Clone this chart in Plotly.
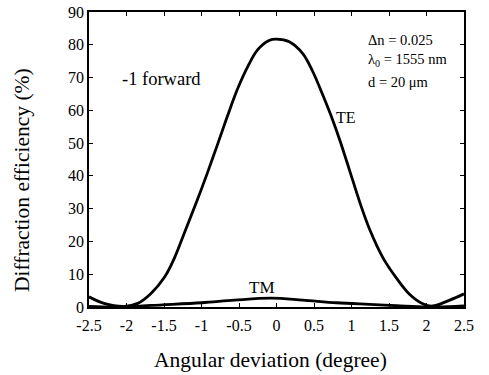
import plotly.graph_objects as go

# TE curve
te_x = [-2.5, -2.3, -2.03, -1.85, -1.67, -1.49, -1.36, -1.23, -1.05, -0.92, -0.78, -0.65, -0.52,
        -0.38, -0.25, -0.1, 0.0, 0.17, 0.35, 0.48, 0.62, 0.75, 0.85, 0.97, 1.11, 1.24, 1.42,
        1.6, 1.77, 1.95, 2.08, 2.31, 2.5]
te_y = [3.1, 1.1, 0.2, 1.1, 4.2, 9.2, 15.0, 22.5, 33.0, 41.0, 50.0, 58.5, 66.5,
        73.5, 78.5, 81.3, 81.7, 80.9, 77.3, 72.0, 64.5, 57.0, 50.5, 42.0, 32.0, 23.8, 15.0,
        8.8, 4.0, 1.0, 0.3, 2.1, 4.0]

# TM curve
tm_x = [-2.5, -2.2, -2.0, -1.67, -1.0, -0.56, -0.07, 0.35, 0.8, 1.24, 1.6, 2.0, 2.3, 2.5]
tm_y = [0.2, 0.0, 0.0, 0.5, 1.3, 2.1, 2.7, 2.1, 1.3, 0.8, 0.4, 0.0, 0.1, 0.3]

x_ticks = [-2.5, -2, -1.5, -1, -0.5, 0, 0.5, 1, 1.5, 2, 2.5]
x_tick_labels = ["-2.5", "-2", "-1.5", "-1", "-0.5", "0", "0.5", "1", "1.5", "2", "2.5"]
y_ticks = [0, 10, 20, 30, 40, 50, 60, 70, 80, 90]

FONT = "Liberation Serif"

fig = go.Figure()
fig.add_trace(go.Scatter(x=te_x, y=te_y, mode="lines",
                         line=dict(color="black", width=2.8, shape="spline", smoothing=1.0),
                         showlegend=False))
fig.add_trace(go.Scatter(x=tm_x, y=tm_y, mode="lines",
                         line=dict(color="black", width=2.8, shape="spline", smoothing=1.0),
                         showlegend=False))

ann_font = dict(family=FONT, size=14.5, color="black")
fig.add_annotation(x=-1.53, y=69.5, text="-1 forward", showarrow=False,
                   font=dict(family=FONT, size=18.5, color="black"), xanchor="center", yanchor="middle")
fig.add_annotation(x=1.19, y=81.5, text="Δn = 0.025", showarrow=False, font=ann_font,
                   xanchor="left", yanchor="middle")
fig.add_annotation(x=1.19, y=75.5, text="λ<sub>0</sub> = 1555 nm", showarrow=False, font=ann_font,
                   xanchor="left", yanchor="middle")
fig.add_annotation(x=1.19, y=68.6, text="d = 20 μm", showarrow=False, font=ann_font,
                   xanchor="left", yanchor="middle")
fig.add_annotation(x=0.76, y=57.9, text="TE", showarrow=False,
                   font=dict(family=FONT, size=16, color="black"), xanchor="left", yanchor="middle")
fig.add_annotation(x=-0.19, y=6.0, text="TM", showarrow=False,
                   font=dict(family=FONT, size=17, color="black"), xanchor="center", yanchor="middle")

# axis titles placed as paper annotations
fig.add_annotation(xref="paper", yref="paper", x=0.483, y=-0.18, text="Angular deviation (degree)",
                   showarrow=False, font=dict(family=FONT, size=21.5, color="black"),
                   xanchor="center", yanchor="middle")
fig.add_annotation(xref="paper", yref="paper", x=-0.179, y=0.43, text="Diffraction efficiency (%)",
                   showarrow=False, textangle=-90, font=dict(family=FONT, size=21.5, color="black"),
                   xanchor="center", yanchor="middle")

fig.update_layout(
    width=489, height=375,
    margin=dict(l=89, r=25, t=12, b=68, autoexpand=False),
    paper_bgcolor="white", plot_bgcolor="white",
    font=dict(family=FONT, color="black"),
)
fig.update_xaxes(range=[-2.5, 2.5], tickvals=x_ticks, ticktext=x_tick_labels,
                 ticks="inside", ticklen=4, tickcolor="black", mirror="ticks",
                 showline=True, linecolor="black", linewidth=1.6, showgrid=False, zeroline=False,
                 tickfont=dict(family=FONT, size=16), ticklabelstandoff=3, automargin=False)
fig.update_yaxes(range=[0, 90], tickvals=y_ticks,
                 ticks="inside", ticklen=4, tickcolor="black", mirror="ticks",
                 showline=True, linecolor="black", linewidth=1.6, showgrid=False, zeroline=False,
                 tickfont=dict(family=FONT, size=16), automargin=False)

fig.write_html("out.html")
